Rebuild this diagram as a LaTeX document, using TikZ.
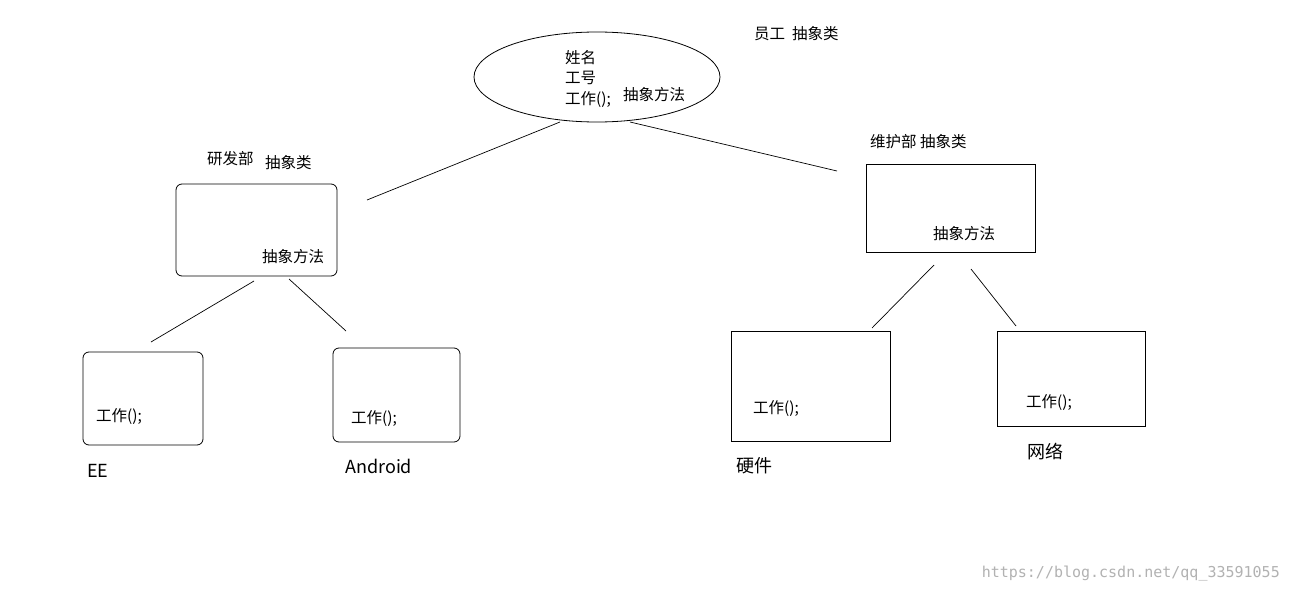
\documentclass[tikz,border=0pt]{standalone}
\usepackage{fontspec}
\setmainfont{Noto Sans CJK SC}
\newfontfamily\wmfont{DejaVu Sans Mono}
\begin{document}
\begin{tikzpicture}[x=1pt,y=-1pt,
  lbl/.style={anchor=west,inner sep=0pt,font=\fontsize{15.5}{17}\selectfont},
  big/.style={anchor=west,inner sep=0pt,font=\fontsize{18}{20}\selectfont},
  rbox/.style={draw,rounded corners=6pt,line width=0.8pt},
  sbox/.style={draw,line width=0.8pt},
  conn/.style={line width=0.7pt}]
\useasboundingbox[fill=white] (0,0) rectangle (1290,594);
\draw[line width=0.8pt] (597,77) ellipse [x radius=123, y radius=45];
\node[lbl] (n1) at (565,58) {姓名};
\node[lbl] (n2) at (565,78) {工号};
\node[lbl] (n3) at (565,100) {工作();};
\node[lbl] (n4) at (623,95) {抽象方法};
\node[lbl] (t0) at (754,34) {员工\ \ 抽象类};
\coordinate (e1) at (560,122); \coordinate (e2) at (630,122);
\coordinate (l1) at (367,200); \coordinate (r1) at (837,171);
\draw[conn] (e1) -- (l1); \draw[conn] (e2) -- (r1);
\draw[rbox] (176,184) rectangle (337,276);
\node[lbl] (ta) at (207,159) {研发部};
\node[lbl] (tb) at (265,163) {抽象类};
\node[lbl] (tc) at (262,257) {抽象方法};
\draw[sbox] (866,164) rectangle (1035,252);
\node[lbl] (td) at (870,142) {维护部 抽象类};
\node[lbl] (te) at (933,234) {抽象方法};
\coordinate (a1) at (254,281); \coordinate (a2) at (151,342);
\coordinate (a3) at (289,279); \coordinate (a4) at (346,331);
\coordinate (b1) at (934,265); \coordinate (b2) at (872,328);
\coordinate (b3) at (971,269); \coordinate (b4) at (1016,326);
\draw[conn] (a1)--(a2); \draw[conn] (a3)--(a4);
\draw[conn] (b1)--(b2); \draw[conn] (b3)--(b4);
\draw[rbox] (83,352) rectangle (203,445);
\node[lbl] (w1) at (96,417) {工作();};
\node[big] (ee) at (87,471) {EE};
\draw[rbox] (333,348) rectangle (460,442);
\node[lbl] (w2) at (351,419) {工作();};
\node[big] (an) at (345,466) {Android};
\draw[sbox] (731,331) rectangle (890,441);
\node[lbl] (w3) at (753,409) {工作();};
\node[big] (yj) at (736,466) {硬件};
\draw[sbox] (997,331) rectangle (1145,426);
\node[lbl] (w4) at (1026,403) {工作();};
\node[big] (wl) at (1027,452) {网络};
\node[anchor=east,inner sep=0pt,text=black!30,font=\wmfont\fontsize{15}{17}\selectfont] (wm) at (1280,574) {https://blog.csdn.net/qq\_33591055};
\end{tikzpicture}
\end{document}
